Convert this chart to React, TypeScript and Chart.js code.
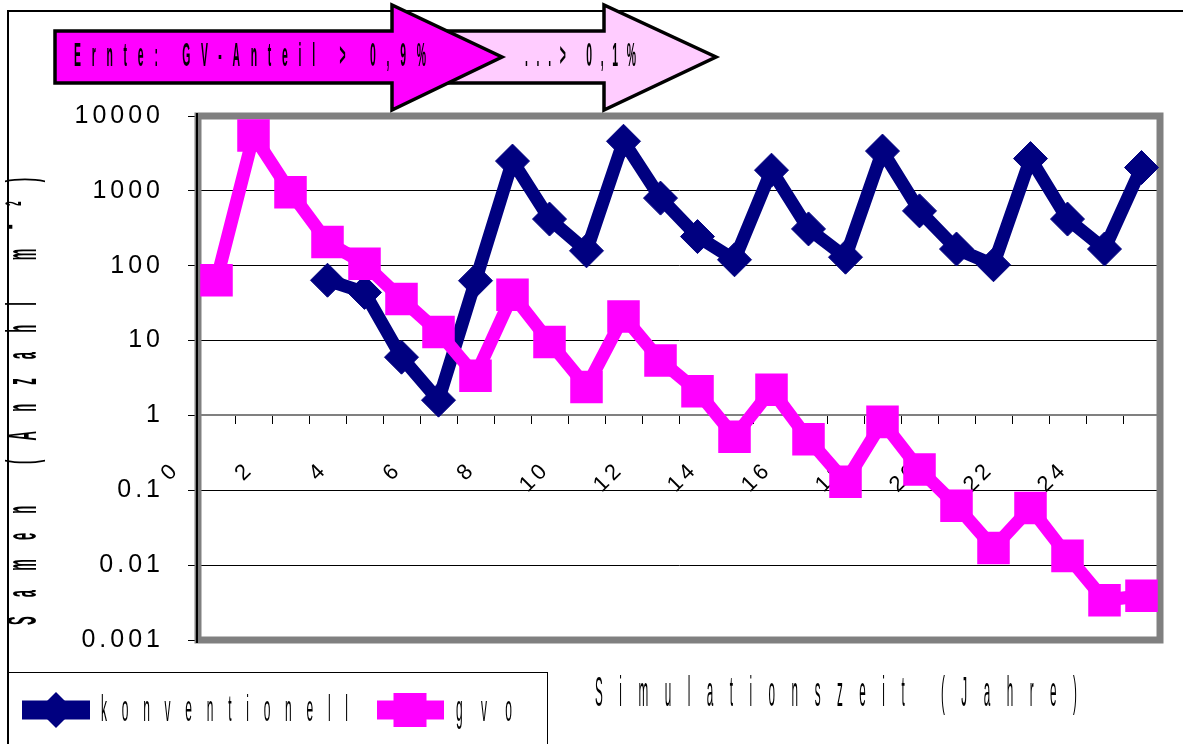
import React, { useEffect, useRef } from 'react';
import { Chart, registerables } from 'chart.js';

Chart.register(...registerables);

// ---------- data ----------
const categories = ['0', '1', '2', '3', '4', '5', '6', '7', '8', '9', '10', '11', '12', '13', '14', '15', '16', '17', '18', '19', '20', '21', '22', '23', '24', '25'];
const xTickLabels = ['0', '', '2', '', '4', '', '6', '', '8', '', '10', '', '12', '', '14', '', '16', '', '18', '', '20', '', '22', '', '24', ''];
const yTickValues = [0.001, 0.01, 0.1, 1, 10, 100, 1000, 10000];
const yTickLabels = ['0.001', '0.01', '0.1', '1', '10', '100', '1000', '10000'];
const konventionell = [null, null, null, 64, 44, 6.0, 1.6, 63, 2500, 420, 158, 4600, 800, 245, 120, 1890, 310, 130, 3400, 540, 167, 103, 2700, 420, 167, 2050];
const gvo = [64, 5500, 960, 207, 106, 36, 13, 3.4, 41, 9.6, 2.4, 21, 5.4, 2.1, 0.52, 2.2, 0.48, 0.13, 0.82, 0.19, 0.062, 0.017, 0.058, 0.0133, 0.0034, 0.0039];
const seriesNames = ['konventionell', 'gvo'];
const seriesColors = ['#000080', '#FF00FF'];
const xTitle = 'Simulationszeit (Jahre)';
const yTitle = 'Samen (Anzahl m⁻²)';
const arrowTexts = ['Ernte: GV-Anteil > 0,9%', '...> 0,1%'];
const arrowColors = ['#FF00FF', '#FFCCFF'];

const SANS = "'Liberation Sans', Arial, sans-serif";
const NARROW = "'Liberation Sans Narrow', 'Arial Narrow', 'Liberation Sans', Arial, sans-serif";
const TICK_SPACING = '4px';

type TextOpts = { size: number; weight?: string; sx: number; sy: number; color?: string; angle?: number };

function drawSpaced(ctx: CanvasRenderingContext2D, text: string, x: number, y: number, length: number, o: TextOpts) {
  ctx.save();
  ctx.translate(x, y);
  if (o.angle) ctx.rotate(o.angle);
  ctx.scale(o.sx, o.sy);
  ctx.font = `${o.weight || 'normal'} ${o.size}px ${SANS}`;
  ctx.fillStyle = o.color || '#000';
  ctx.textAlign = 'left';
  ctx.textBaseline = 'middle';
  const anyCtx = ctx as any;
  const chars = Array.from(text);
  const hasLS = 'letterSpacing' in anyCtx;
  if (hasLS) anyCtx.letterSpacing = '0px';
  const natural = ctx.measureText(text).width;
  const spacing = chars.length > 1 ? (length / o.sx - natural) / (chars.length - 1) : 0;
  if (hasLS) {
    anyCtx.letterSpacing = `${spacing}px`;
    ctx.fillText(text, 0, 0);
    anyCtx.letterSpacing = '0px';
  } else {
    let cx = 0;
    for (const c of chars) {
      ctx.fillText(c, cx, 0);
      cx += ctx.measureText(c).width + spacing;
    }
  }
  ctx.restore();
}

function drawArrow(ctx: CanvasRenderingContext2D, x0: number, headX: number, tipX: number, fill: string) {
  const bodyTop = 31, bodyBot = 83, headTop = 5, headBot = 110, tipY = 57;
  ctx.save();
  ctx.beginPath();
  ctx.moveTo(x0, bodyTop);
  ctx.lineTo(headX, bodyTop);
  ctx.lineTo(headX, headTop);
  ctx.lineTo(tipX, tipY);
  ctx.lineTo(headX, headBot);
  ctx.lineTo(headX, bodyBot);
  ctx.lineTo(x0, bodyBot);
  ctx.closePath();
  ctx.fillStyle = fill;
  ctx.fill();
  ctx.lineWidth = 3.5;
  ctx.lineJoin = 'miter';
  ctx.strokeStyle = '#000';
  ctx.stroke();
  ctx.restore();
}

const decoPlugin = {
  id: 'deco',
  beforeDraw(chart: any) {
    const ctx = chart.ctx as any;
    if ('letterSpacing' in ctx) ctx.letterSpacing = TICK_SPACING;
  },
  beforeDatasetsDraw(chart: any) {
    const ctx = chart.ctx as CanvasRenderingContext2D;
    const anyCtx = ctx as any;
    if ('letterSpacing' in anyCtx) anyCtx.letterSpacing = '0px';
    const a = chart.chartArea;
    ctx.save();
    ctx.strokeStyle = '#808080';
    ctx.lineWidth = 7;
    ctx.strokeRect(a.left, a.top, a.right - a.left, a.bottom - a.top);
    ctx.strokeStyle = '#000';
    ctx.lineWidth = 2;
    ctx.beginPath();
    ctx.moveTo(a.left - 1, a.top - 3);
    ctx.lineTo(a.left - 1, a.bottom + 3);
    ctx.stroke();
    ctx.restore();
  },
  afterDraw(chart: any) {
    const ctx = chart.ctx as CanvasRenderingContext2D;
    const anyCtx = ctx as any;
    if ('letterSpacing' in anyCtx) anyCtx.letterSpacing = '0px';
    ctx.save();
    // outer chart frame (top + left edges)
    ctx.strokeStyle = '#000';
    ctx.lineWidth = 2;
    ctx.beginPath();
    ctx.moveTo(8, 744);
    ctx.lineTo(8, 11);
    ctx.lineTo(1183, 11);
    ctx.stroke();

    // arrows
    drawArrow(ctx, 395, 604, 716, arrowColors[1]);
    drawArrow(ctx, 55, 392, 502, arrowColors[0]);
    drawSpaced(ctx, arrowTexts[0], 74, 57, 352, { size: 26, weight: 'bold', sx: 0.4, sy: 1.25 });
    drawSpaced(ctx, arrowTexts[1], 525, 57, 111, { size: 26, weight: 'bold', sx: 0.4, sy: 1.25 });

    // axis titles
    drawSpaced(ctx, yTitle, 24, 625, 447, { size: 26, weight: 'bold', sx: 0.5, sy: 1.65, angle: -Math.PI / 2 });
    drawSpaced(ctx, xTitle, 595, 695, 482, { size: 26, sx: 0.45, sy: 1.6 });

    // legend box
    ctx.strokeStyle = '#000';
    ctx.lineWidth = 1;
    ctx.strokeRect(8.5, 672.5, 539, 80);
    const ly = 710;
    // konventionell marker
    ctx.strokeStyle = seriesColors[0];
    ctx.lineWidth = 19;
    ctx.beginPath();
    ctx.moveTo(22, ly);
    ctx.lineTo(90, ly);
    ctx.stroke();
    ctx.fillStyle = seriesColors[0];
    ctx.beginPath();
    ctx.moveTo(56 - 18, ly);
    ctx.lineTo(56, ly - 18);
    ctx.lineTo(56 + 18, ly);
    ctx.lineTo(56, ly + 18);
    ctx.closePath();
    ctx.fill();
    drawSpaced(ctx, seriesNames[0], 101, 711, 247, { size: 24, sx: 0.5, sy: 1.55 });
    // gvo marker
    ctx.strokeStyle = seriesColors[1];
    ctx.lineWidth = 19;
    ctx.beginPath();
    ctx.moveTo(377, ly);
    ctx.lineTo(444, ly);
    ctx.stroke();
    ctx.fillStyle = seriesColors[1];
    ctx.fillRect(410 - 16.5, ly - 17, 33, 34);
    drawSpaced(ctx, seriesNames[1], 456, 711, 56, { size: 24, sx: 0.5, sy: 1.55 });
    ctx.restore();
  },
};

export default function App() {
  const canvasRef = useRef<HTMLCanvasElement>(null);

  useEffect(() => {
    const canvas = canvasRef.current;
    if (!canvas) return;
    const chart = new Chart(canvas, {
      type: 'line',
      data: {
        labels: categories,
        datasets: [
          {
            label: seriesNames[0],
            data: konventionell as any,
            borderColor: seriesColors[0],
            backgroundColor: seriesColors[0],
            borderWidth: 13,
            borderJoinStyle: 'round',
            pointStyle: 'rectRot',
            pointRadius: 17,
            pointBorderWidth: 1,
            pointBackgroundColor: seriesColors[0],
            pointBorderColor: seriesColors[0],
            tension: 0,
            clip: false as any,
            order: 2,
          },
          {
            label: seriesNames[1],
            data: gvo,
            borderColor: seriesColors[1],
            backgroundColor: seriesColors[1],
            borderWidth: 13,
            borderJoinStyle: 'round',
            pointStyle: 'rect',
            pointRadius: 23,
            pointBorderWidth: 0,
            pointBackgroundColor: seriesColors[1],
            pointBorderColor: seriesColors[1],
            tension: 0,
            clip: false as any,
            order: 1,
          },
        ],
      },
      options: {
        responsive: false,
        animation: false,
        devicePixelRatio: 1,
        layout: { padding: { left: 0, top: 116, right: 22, bottom: 104 } },
        plugins: {
          legend: { display: false },
          tooltip: { enabled: false },
          title: { display: false },
        },
        scales: {
          x: {
            type: 'category',
            position: { y: 1 } as any,
            offset: true,
            afterFit: (scale: any) => {
              scale.paddingLeft = 0;
              scale.paddingRight = 0;
            },
            grid: {
              display: true,
              drawOnChartArea: false,
              drawTicks: true,
              tickLength: 8,
              color: '#000',
              offset: true,
            },
            border: { display: true, color: '#808080', width: 2 },
            ticks: {
              autoSkip: false,
              minRotation: 45,
              maxRotation: 45,
              labelOffset: -40,
              padding: 33,
              color: '#000',
              font: { family: NARROW, size: 22 },
              callback: (_v: any, i: number) => xTickLabels[i],
            },
          },
          y: {
            type: 'logarithmic',
            position: 'left',
            min: 0.001,
            max: 10000,
            afterFit: (scale: any) => {
              scale.width = 198;
            },
            afterBuildTicks: (scale: any) => {
              scale.ticks = yTickValues.map((v) => ({ value: v }));
            },
            grid: { color: '#000', lineWidth: 1, drawTicks: true, tickLength: 10 },
            border: { display: true, color: '#000', width: 2 },
            ticks: {
              color: '#000',
              padding: 24,
              font: { family: NARROW, size: 25 },
              callback: (_v: any, i: number) => yTickLabels[i],
            },
          },
        },
      },
      plugins: [decoPlugin],
    });
    return () => chart.destroy();
  }, []);

  return (
    <div style={{ position: 'fixed', left: 0, top: 0, width: 1183, height: 744, background: '#fff' }}>
      <canvas ref={canvasRef} width={1183} height={744} style={{ display: 'block', width: 1183, height: 744 }} />
    </div>
  );
}
